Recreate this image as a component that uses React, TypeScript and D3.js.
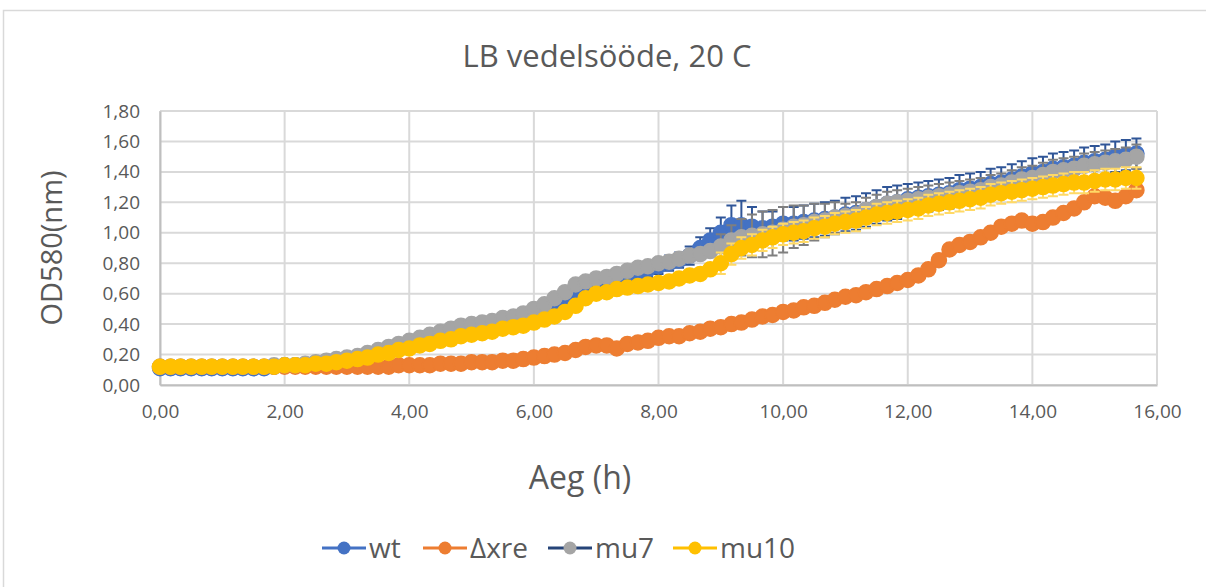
import React, { useEffect, useRef } from "react";
import * as d3 from "d3";

// time (h), one reading every 10 min
const TIME = [0, 0.17, 0.33, 0.5, 0.67, 0.83, 1, 1.17, 1.33, 1.5, 1.67, 1.83, 2, 2.17, 2.33, 2.5, 2.67, 2.83, 3, 3.17, 3.33, 3.5, 3.67, 3.83, 4, 4.17, 4.33, 4.5, 4.67, 4.83, 5, 5.17, 5.33, 5.5, 5.67, 5.83, 6, 6.17, 6.33, 6.5, 6.67, 6.83, 7, 7.17, 7.33, 7.5, 7.67, 7.83, 8, 8.17, 8.33, 8.5, 8.67, 8.83, 9, 9.17, 9.33, 9.5, 9.67, 9.83, 10, 10.17, 10.33, 10.5, 10.67, 10.83, 11, 11.17, 11.33, 11.5, 11.67, 11.83, 12, 12.17, 12.33, 12.5, 12.67, 12.83, 13, 13.17, 13.33, 13.5, 13.67, 13.83, 14, 14.17, 14.33, 14.5, 14.67, 14.83, 15, 15.17, 15.33, 15.5, 15.67];

const WT = [0.11, 0.11, 0.11, 0.11, 0.11, 0.11, 0.11, 0.11, 0.11, 0.11, 0.11, 0.12, 0.13, 0.13, 0.13, 0.14, 0.15, 0.16, 0.17, 0.18, 0.2, 0.21, 0.23, 0.25, 0.27, 0.29, 0.31, 0.33, 0.35, 0.37, 0.38, 0.39, 0.4, 0.42, 0.43, 0.45, 0.47, 0.5, 0.53, 0.57, 0.62, 0.64, 0.67, 0.68, 0.7, 0.72, 0.74, 0.76, 0.78, 0.8, 0.82, 0.85, 0.9, 0.95, 1.0, 1.05, 1.05, 1.04, 1.03, 1.04, 1.06, 1.06, 1.07, 1.08, 1.09, 1.1, 1.12, 1.13, 1.15, 1.17, 1.19, 1.2, 1.22, 1.23, 1.24, 1.25, 1.26, 1.28, 1.29, 1.3, 1.32, 1.33, 1.35, 1.37, 1.39, 1.4, 1.42, 1.43, 1.44, 1.46, 1.47, 1.48, 1.5, 1.51, 1.52];
const WT_ERR = [0.01, 0.01, 0.01, 0.01, 0.01, 0.01, 0.01, 0.01, 0.01, 0.01, 0.01, 0.01, 0.01, 0.01, 0.01, 0.01, 0.01, 0.01, 0.02, 0.02, 0.02, 0.02, 0.02, 0.02, 0.02, 0.02, 0.02, 0.02, 0.02, 0.02, 0.03, 0.03, 0.03, 0.03, 0.03, 0.03, 0.05, 0.05, 0.05, 0.05, 0.05, 0.05, 0.05, 0.05, 0.05, 0.05, 0.05, 0.05, 0.05, 0.05, 0.05, 0.06, 0.07, 0.08, 0.1, 0.13, 0.16, 0.13, 0.11, 0.1, 0.11, 0.11, 0.11, 0.11, 0.11, 0.11, 0.11, 0.11, 0.11, 0.11, 0.11, 0.11, 0.1, 0.1, 0.1, 0.1, 0.1, 0.1, 0.1, 0.1, 0.1, 0.1, 0.1, 0.1, 0.1, 0.1, 0.1, 0.1, 0.1, 0.1, 0.1, 0.1, 0.1, 0.1, 0.1];

const DXRE = [0.12, 0.12, 0.12, 0.12, 0.12, 0.12, 0.12, 0.12, 0.12, 0.12, 0.12, 0.12, 0.12, 0.12, 0.12, 0.12, 0.12, 0.12, 0.12, 0.12, 0.12, 0.12, 0.12, 0.13, 0.13, 0.13, 0.13, 0.14, 0.14, 0.14, 0.15, 0.15, 0.15, 0.16, 0.16, 0.17, 0.18, 0.19, 0.2, 0.21, 0.23, 0.25, 0.26, 0.26, 0.24, 0.27, 0.28, 0.29, 0.31, 0.32, 0.32, 0.34, 0.35, 0.37, 0.38, 0.4, 0.41, 0.43, 0.45, 0.46, 0.48, 0.49, 0.51, 0.52, 0.54, 0.56, 0.58, 0.59, 0.61, 0.63, 0.65, 0.67, 0.69, 0.72, 0.76, 0.82, 0.89, 0.92, 0.94, 0.97, 1.0, 1.04, 1.06, 1.08, 1.06, 1.07, 1.1, 1.13, 1.16, 1.2, 1.24, 1.23, 1.21, 1.24, 1.28];
const DXRE_ERR = [0.01, 0.01, 0.01, 0.01, 0.01, 0.01, 0.01, 0.01, 0.01, 0.01, 0.01, 0.01, 0.01, 0.01, 0.01, 0.01, 0.01, 0.01, 0.01, 0.01, 0.01, 0.01, 0.01, 0.01, 0.01, 0.01, 0.01, 0.01, 0.01, 0.01, 0.01, 0.01, 0.01, 0.01, 0.01, 0.01, 0.01, 0.01, 0.01, 0.01, 0.01, 0.01, 0.01, 0.01, 0.01, 0.01, 0.01, 0.01, 0.01, 0.01, 0.01, 0.01, 0.01, 0.01, 0.01, 0.01, 0.01, 0.01, 0.01, 0.01, 0.01, 0.01, 0.01, 0.01, 0.01, 0.01, 0.01, 0.01, 0.01, 0.01, 0.01, 0.01, 0.01, 0.01, 0.01, 0.01, 0.01, 0.01, 0.01, 0.01, 0.01, 0.01, 0.01, 0.01, 0.01, 0.01, 0.01, 0.01, 0.01, 0.01, 0.01, 0.01, 0.01, 0.01, 0.01];

const MU7 = [0.12, 0.12, 0.12, 0.12, 0.12, 0.12, 0.12, 0.12, 0.12, 0.12, 0.12, 0.13, 0.13, 0.13, 0.14, 0.15, 0.16, 0.17, 0.18, 0.19, 0.21, 0.23, 0.25, 0.27, 0.29, 0.31, 0.33, 0.35, 0.37, 0.39, 0.4, 0.41, 0.42, 0.44, 0.45, 0.47, 0.5, 0.53, 0.57, 0.61, 0.66, 0.68, 0.7, 0.71, 0.73, 0.75, 0.77, 0.78, 0.8, 0.81, 0.83, 0.85, 0.86, 0.88, 0.91, 0.95, 0.97, 0.98, 0.99, 1.0, 1.02, 1.04, 1.05, 1.07, 1.08, 1.1, 1.11, 1.12, 1.15, 1.17, 1.19, 1.2, 1.21, 1.22, 1.23, 1.24, 1.25, 1.26, 1.27, 1.28, 1.3, 1.31, 1.33, 1.35, 1.36, 1.38, 1.4, 1.41, 1.42, 1.44, 1.45, 1.46, 1.47, 1.48, 1.5];
const MU7_ERR = [0.01, 0.01, 0.01, 0.01, 0.01, 0.01, 0.01, 0.01, 0.01, 0.01, 0.01, 0.01, 0.01, 0.01, 0.01, 0.01, 0.01, 0.01, 0.01, 0.01, 0.01, 0.01, 0.01, 0.01, 0.01, 0.01, 0.01, 0.01, 0.01, 0.01, 0.01, 0.01, 0.01, 0.01, 0.01, 0.01, 0.03, 0.03, 0.03, 0.03, 0.03, 0.03, 0.03, 0.03, 0.03, 0.03, 0.03, 0.03, 0.03, 0.03, 0.03, 0.03, 0.03, 0.03, 0.08, 0.1, 0.12, 0.14, 0.15, 0.15, 0.15, 0.14, 0.13, 0.12, 0.11, 0.1, 0.08, 0.08, 0.08, 0.08, 0.08, 0.08, 0.08, 0.08, 0.08, 0.08, 0.08, 0.08, 0.08, 0.08, 0.08, 0.08, 0.08, 0.08, 0.08, 0.08, 0.08, 0.08, 0.08, 0.08, 0.08, 0.08, 0.08, 0.08, 0.08];

const MU10 = [0.12, 0.12, 0.12, 0.12, 0.12, 0.12, 0.12, 0.12, 0.12, 0.12, 0.12, 0.12, 0.13, 0.13, 0.13, 0.14, 0.14, 0.15, 0.16, 0.17, 0.18, 0.2, 0.21, 0.23, 0.24, 0.26, 0.27, 0.29, 0.3, 0.32, 0.33, 0.34, 0.35, 0.37, 0.38, 0.39, 0.41, 0.43, 0.45, 0.48, 0.52, 0.57, 0.6, 0.61, 0.63, 0.64, 0.65, 0.66, 0.67, 0.68, 0.7, 0.72, 0.73, 0.76, 0.8, 0.86, 0.9, 0.92, 0.95, 0.97, 0.99, 1.0, 1.01, 1.03, 1.04, 1.06, 1.07, 1.08, 1.1, 1.12, 1.13, 1.14, 1.15, 1.16, 1.18, 1.19, 1.2, 1.21, 1.22, 1.23, 1.25, 1.26, 1.27, 1.28, 1.29, 1.3, 1.31, 1.32, 1.33, 1.33, 1.34, 1.35, 1.35, 1.36, 1.36];
const MU10_ERR = [0.01, 0.01, 0.01, 0.01, 0.01, 0.01, 0.01, 0.01, 0.01, 0.01, 0.01, 0.01, 0.01, 0.01, 0.01, 0.01, 0.01, 0.01, 0.01, 0.01, 0.01, 0.01, 0.01, 0.01, 0.01, 0.01, 0.01, 0.01, 0.01, 0.01, 0.01, 0.01, 0.01, 0.01, 0.01, 0.01, 0.01, 0.01, 0.01, 0.01, 0.01, 0.01, 0.01, 0.01, 0.01, 0.01, 0.01, 0.01, 0.02, 0.02, 0.02, 0.02, 0.02, 0.02, 0.07, 0.07, 0.07, 0.07, 0.07, 0.07, 0.07, 0.07, 0.07, 0.07, 0.07, 0.07, 0.07, 0.07, 0.07, 0.07, 0.07, 0.07, 0.07, 0.07, 0.07, 0.07, 0.07, 0.07, 0.07, 0.07, 0.07, 0.07, 0.07, 0.07, 0.07, 0.07, 0.07, 0.07, 0.07, 0.07, 0.07, 0.07, 0.07, 0.07, 0.07];

const X_TICKS = [0, 2, 4, 6, 8, 10, 12, 14, 16];
const Y_TICKS = [0, 0.2, 0.4, 0.6, 0.8, 1.0, 1.2, 1.4, 1.6, 1.8];

const SERIES = [
  { name: "wt", values: WT, err: WT_ERR, marker: "#4472C4", line: "#4472C4", errColor: "#2F5597" },
  { name: "Δxre", values: DXRE, err: DXRE_ERR, marker: "#ED7D31", line: "#ED7D31", errColor: "#C55A11" },
  { name: "mu7", values: MU7, err: MU7_ERR, marker: "#A5A5A5", line: "#264478", errColor: "#7F7F7F" },
  { name: "mu10", values: MU10, err: MU10_ERR, marker: "#FFC000", line: "#FFC000", errColor: "#FFD966" },
];

const FONT = "'Open Sans', sans-serif";
const TEXT = "#595959";

export default function App() {
  const svgRef = useRef(null);

  useEffect(() => {
    const svg = d3.select(svgRef.current);
    svg.selectAll("*").remove();

    const W = 1206;
    const H = 587;
    const margin = { top: 111, right: 49, bottom: 202, left: 160 };
    const width = W - margin.left - margin.right;
    const height = H - margin.top - margin.bottom;

    svg.append("rect").attr("width", W).attr("height", H).attr("fill", "#fff");
    // outer chart frame
    svg
      .append("rect")
      .attr("x", 3.5)
      .attr("y", 10.5)
      .attr("width", W + 10)
      .attr("height", H + 10)
      .attr("fill", "none")
      .attr("stroke", "#d9d9d9")
      .attr("stroke-width", 1.5);

    const x = d3.scaleLinear().domain([0, 16]).range([0, width]);
    const y = d3.scaleLinear().domain([0, 1.8]).range([height, 0]);
    const fmt = (d) => d3.format(".2f")(d).replace(".", ",");

    const g = svg.append("g").attr("transform", `translate(${margin.left},${margin.top})`);

    // gridlines
    g.append("g")
      .selectAll("line.h")
      .data(Y_TICKS)
      .enter()
      .append("line")
      .attr("x1", 0)
      .attr("x2", width)
      .attr("y1", (d) => y(d))
      .attr("y2", (d) => y(d))
      .attr("stroke", "#d9d9d9")
      .attr("stroke-width", 2);
    g.append("g")
      .selectAll("line.v")
      .data(X_TICKS)
      .enter()
      .append("line")
      .attr("x1", (d) => x(d))
      .attr("x2", (d) => x(d))
      .attr("y1", 0)
      .attr("y2", height)
      .attr("stroke", "#d9d9d9")
      .attr("stroke-width", 2);

    // axes
    const yAxis = g
      .append("g")
      .call(d3.axisLeft(y).tickValues(Y_TICKS).tickFormat(fmt).tickSize(0).tickPadding(20));
    yAxis.select(".domain").attr("stroke", "#bfbfbf").attr("stroke-width", 2);
    yAxis.selectAll("text").style("font-family", FONT).style("font-size", "19px").attr("fill", TEXT);

    const xAxis = g
      .append("g")
      .attr("transform", `translate(0,${height})`)
      .call(d3.axisBottom(x).tickValues(X_TICKS).tickFormat(fmt).tickSize(0).tickPadding(20));
    xAxis.select(".domain").attr("stroke", "#bfbfbf").attr("stroke-width", 2);
    xAxis.selectAll("text").style("font-family", FONT).style("font-size", "19px").attr("fill", TEXT);

    const line = d3
      .line()
      .x((d) => x(d[0]))
      .y((d) => y(d[1]));

    SERIES.forEach((s) => {
      const pts = TIME.map((t, i) => [t, s.values[i], s.err[i]]);

      // error bars
      const eb = g.append("g").attr("stroke", s.errColor).attr("stroke-width", 2).attr("fill", "none");
      pts.forEach(([t, v, e]) => {
        const cx = x(t);
        eb.append("path").attr(
          "d",
          `M${cx},${y(v - e)}V${y(v + e)}M${cx - 5},${y(v + e)}H${cx + 5}M${cx - 5},${y(v - e)}H${cx + 5}`
        );
      });

      g.append("path")
        .datum(pts)
        .attr("d", line)
        .attr("fill", "none")
        .attr("stroke", s.line)
        .attr("stroke-width", 3);

      g.append("g")
        .selectAll("circle")
        .data(pts)
        .enter()
        .append("circle")
        .attr("cx", (d) => x(d[0]))
        .attr("cy", (d) => y(d[1]))
        .attr("r", 7.5)
        .attr("fill", s.marker)
        .attr("stroke", s.marker)
        .attr("stroke-width", 1.5);
    });

    // titles
    svg
      .append("text")
      .attr("x", 607)
      .attr("y", 67)
      .attr("text-anchor", "middle")
      .style("font-family", FONT)
      .style("font-size", "31px")
      .attr("fill", TEXT)
      .text("LB vedelsööde, 20 C");

    svg
      .append("text")
      .attr("transform", "translate(62,248) rotate(-90)")
      .attr("text-anchor", "middle")
      .style("font-family", FONT)
      .style("font-size", "29px")
      .attr("fill", TEXT)
      .text("OD580(nm)");

    svg
      .append("text")
      .attr("x", 580)
      .attr("y", 489)
      .attr("text-anchor", "middle")
      .style("font-family", FONT)
      .style("font-size", "32px")
      .attr("fill", TEXT)
      .text("Aeg (h)");

    // legend
    const legendX = [322, 423, 548, 673];
    const lg = svg.append("g").attr("transform", "translate(0,548)");
    SERIES.forEach((s, i) => {
      const item = lg.append("g").attr("transform", `translate(${legendX[i]},0)`);
      item.append("line").attr("x1", 0).attr("x2", 44).attr("stroke", s.line).attr("stroke-width", 3);
      item.append("circle").attr("cx", 22).attr("r", 6.5).attr("fill", s.marker);
      item
        .append("text")
        .attr("x", 47)
        .attr("dy", "0.35em")
        .style("font-family", FONT)
        .style("font-size", "28px")
        .attr("fill", TEXT)
        .text(s.name);
    });
  }, []);

  return (
    <div style={{ position: "absolute", left: 0, top: 0 }}>
      <svg ref={svgRef} width={1206} height={587} style={{ display: "block" }}></svg>
    </div>
  );
}
